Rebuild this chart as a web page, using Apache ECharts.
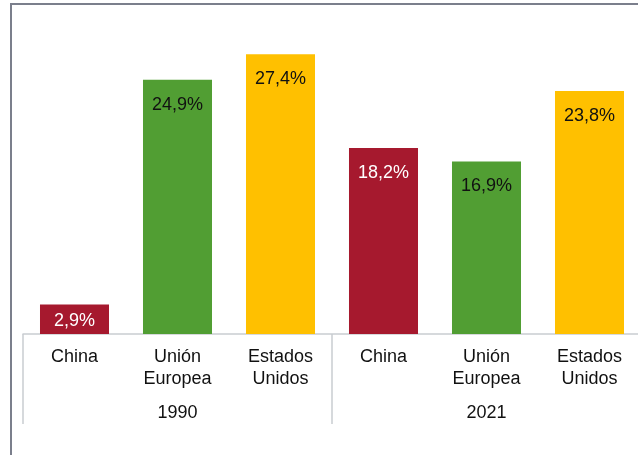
<!DOCTYPE html>
<html>
<head>
<meta charset="utf-8">
<script src="https://cdn.jsdelivr.net/npm/echarts@6/dist/echarts.min.js"></script>
<style>
  html, body { margin: 0; padding: 0; background: #fff; }
  #chart { width: 638px; height: 455px; }
</style>
</head>
<body>
<div id="chart"></div>
<script>
// data
const categories = ['China', 'Unión\nEuropea', 'Estados\nUnidos', 'China', 'Unión\nEuropea', 'Estados\nUnidos'];
const years = ['1990', '2021'];
const shares = [2.9, 24.9, 27.4, 18.2, 16.9, 23.8];
const barColors = ['#a6192e', '#519e33', '#ffc000', '#a6192e', '#519e33', '#ffc000'];
const labelColors = ['#fff', '#111', '#111', '#fff', '#111', '#111'];

const chart = echarts.init(document.getElementById('chart'));

const barData = shares.map((v, i) => {
  const item = {
    value: v,
    itemStyle: { color: barColors[i] },
    label: { color: labelColors[i] }
  };
  // short bar: label sits in the middle
  if (v < 5) item.label.distance = 8;
  return item;
});

chart.setOption({
  animation: false,
  textStyle: { fontFamily: 'Liberation Sans, Arial, sans-serif' },
  graphic: [{
    type: 'rect',
    shape: { x: 11, y: 4, width: 700, height: 600 },
    style: { fill: 'none', stroke: '#7b7f8c', lineWidth: 2 },
    z: 0
  }],
  grid: { left: 23, top: 27.6, width: 618, height: 306.4, outerBoundsMode: 'none' },
  xAxis: [{
    type: 'category',
    data: categories,
    position: 'bottom',
    axisLine: { show: true, lineStyle: { color: '#c9cdd1', width: 1.5 } },
    axisTick: { show: true, alignWithLabel: true, inside: true, length: 4, lineStyle: { color: '#c9cdd1', width: 1.5 } },
    axisLabel: { color: '#111', fontSize: 18, lineHeight: 22, margin: 12, interval: 0 }
  }, {
    type: 'category',
    data: years,
    position: 'bottom',
    axisLine: { show: true, lineStyle: { color: 'rgba(0,0,0,0)' } },
    axisTick: { show: true, interval: 0, length: 90, lineStyle: { color: '#c9cdd1', width: 1.5 } },
    axisLabel: { color: '#111', fontSize: 18, margin: 70 }
  }],
  yAxis: {
    type: 'value',
    min: 0,
    max: 30,
    show: false
  },
  series: [{
    type: 'bar',
    xAxisIndex: 0,
    data: barData,
    barWidth: '67%',
    label: {
      show: true,
      position: 'insideTop',
      distance: 16,
      fontSize: 18,
      formatter: p => p.value.toFixed(1).replace('.', ',') + '%'
    }
  }]
});
</script>
</body>
</html>
